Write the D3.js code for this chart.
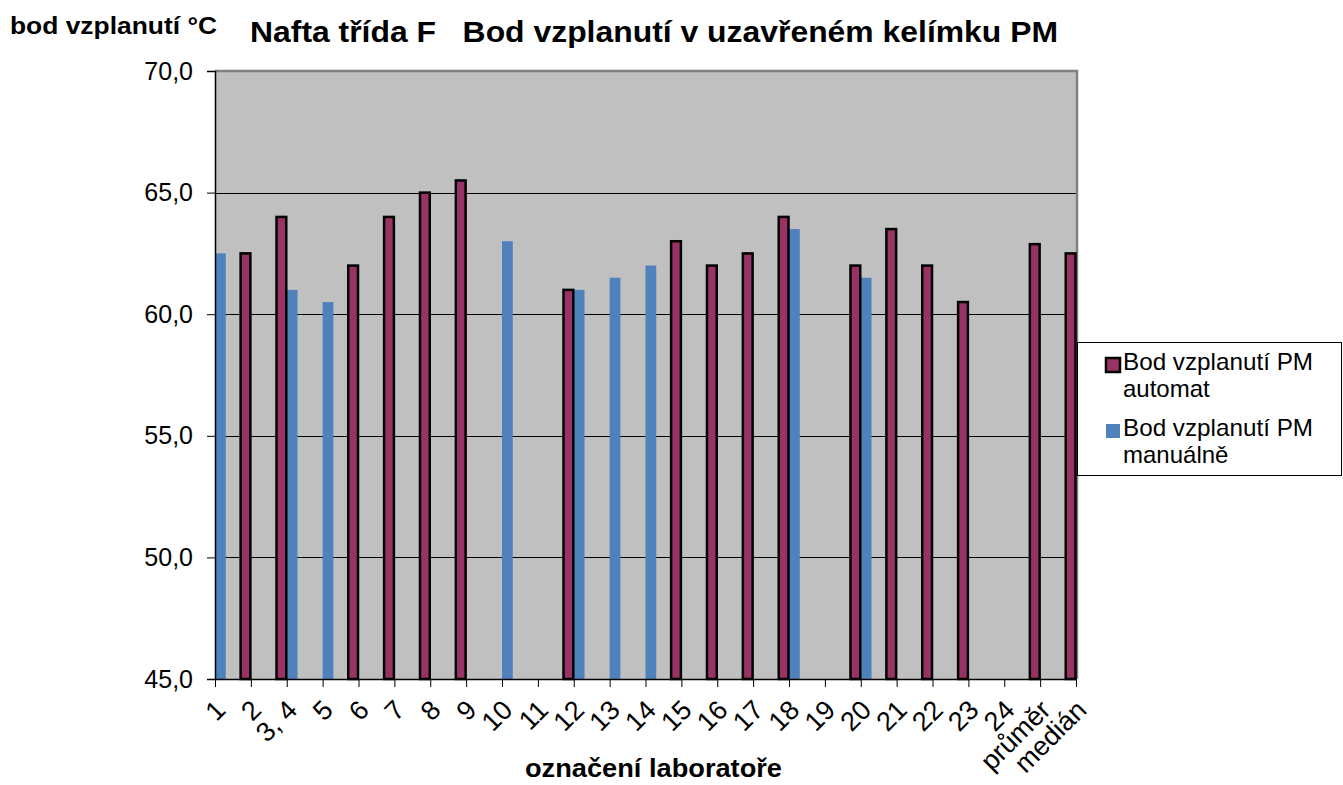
<!DOCTYPE html>
<html>
<head>
<meta charset="utf-8">
<script src="https://cdn.jsdelivr.net/npm/d3@7"></script>
<style>
  body { margin: 0; background: #fff; }
  svg { display: block; font-family: "Liberation Sans", Arial, sans-serif; }
</style>
</head>
<body>
<div id="chart"></div>
<script>
// categories (lab codes) and the two series, null = no result
var labs = ["1", "2", "3, 4", "5", "6", "7", "8", "9", "10", "11", "12", "13", "14",
  "15", "16", "17", "18", "19", "20", "21", "22", "23", "24", "průměr", "medián"];
var automat = [null, 62.5, 64.0, null, 62.0, 64.0, 65.0, 65.5, null, null, 61.0, null, null,
  63.0, 62.0, 62.5, 64.0, null, 62.0, 63.5, 62.0, 60.5, null, 62.88, 62.5];
var manual = [62.5, null, 61.0, 60.5, null, null, null, null, 63.0, null, 61.0, 61.5, 62.0,
  null, null, null, 63.5, null, 61.5, null, null, null, null, null, null];
var yTicks = [45, 50, 55, 60, 65, 70];
var seriesNames = [["Bod vzplanutí PM", "automat"], ["Bod vzplanutí PM", "manuálně"]];

var width = 1343, height = 785;
var plot = {left: 215, right: 1077, top: 71, bottom: 679};

var svg = d3.select("#chart")
  .append("svg")
  .attr("width", width)
  .attr("height", height);

// scales - categories sit on the tick marks
var xScale = d3.scalePoint()
  .domain(labs)
  .range([plot.left, plot.right - 1]);

var yScale = d3.scaleLinear()
  .domain([45, 70])
  .range([plot.bottom, plot.top]);

var barW = xScale.step() * 0.3;

// plot background
svg.append("rect")
  .attr("x", plot.left)
  .attr("y", plot.top)
  .attr("width", plot.right - plot.left)
  .attr("height", plot.bottom - plot.top)
  .attr("fill", "#c0c0c0");

// gridlines
svg.append("g")
  .selectAll("line")
  .data(yTicks.filter(d => d > 45 && d < 70))
  .join("line")
  .attr("x1", plot.left)
  .attr("x2", plot.right)
  .attr("y1", d => Math.round(yScale(d)) + 0.5)
  .attr("y2", d => Math.round(yScale(d)) + 0.5)
  .attr("stroke", "#000")
  .attr("stroke-width", 1);

// grey border top / right
svg.append("path")
  .attr("d", "M" + plot.left + "," + plot.top + "H" + plot.right + "V" + plot.bottom)
  .attr("fill", "none")
  .attr("stroke", "#808080")
  .attr("stroke-width", 2.5);

// bars
var data = labs.map((l, i) => ({lab: l, a: automat[i], m: manual[i]}));

svg.append("g")
  .selectAll("rect")
  .data(data.filter(d => d.m != null))
  .join("rect")
  .attr("x", d => xScale(d.lab))
  .attr("y", d => yScale(d.m))
  .attr("width", barW)
  .attr("height", d => plot.bottom - yScale(d.m))
  .attr("fill", "#4f81bd");

svg.append("g")
  .selectAll("rect")
  .data(data.filter(d => d.a != null))
  .join("rect")
  .attr("x", d => xScale(d.lab) - barW + 0.5)
  .attr("y", d => yScale(d.a))
  .attr("width", barW - 1)
  .attr("height", d => plot.bottom - yScale(d.a))
  .attr("fill", "#993366")
  .attr("stroke", "#000")
  .attr("stroke-width", 2.5);

// Y axis
var yAxis = svg.append("g")
  .attr("transform", "translate(" + plot.left + ",0)")
  .call(d3.axisLeft(yScale).tickValues(yTicks).tickSize(8).tickPadding(14)
    .tickFormat(d => d3.format(".1f")(d).replace(".", ",")));
yAxis.select(".domain").attr("stroke", "#000").attr("stroke-width", 1.5);
yAxis.selectAll("text").style("font-size", "25px").attr("fill", "#000");

// X axis
var xAxis = svg.append("g")
  .attr("transform", "translate(0," + plot.bottom + ")")
  .call(d3.axisBottom(xScale).tickSize(8).tickSizeOuter(0));
xAxis.select(".domain").attr("stroke", "#000").attr("stroke-width", 1.5);
xAxis.selectAll("text")
  .style("font-size", "27px")
  .attr("fill", "#000")
  .attr("text-anchor", "end")
  .attr("x", 0)
  .attr("y", 0)
  .attr("dy", "0.71em")
  .attr("transform", "translate(-2,19) rotate(-45)");

// titles
svg.append("text")
  .attr("x", 250)
  .attr("y", 42)
  .attr("textLength", 808)
  .attr("lengthAdjust", "spacingAndGlyphs")
  .style("font-size", "30px")
  .style("font-weight", "bold")
  .style("white-space", "pre")
  .text("Nafta třída F   Bod vzplanutí v uzavřeném kelímku PM");

svg.append("text")
  .attr("x", 10)
  .attr("y", 34)
  .attr("textLength", 207)
  .attr("lengthAdjust", "spacingAndGlyphs")
  .style("font-size", "23px")
  .style("font-weight", "bold")
  .text("bod vzplanutí °C");

svg.append("text")
  .attr("x", 525)
  .attr("y", 777)
  .attr("textLength", 257)
  .attr("lengthAdjust", "spacingAndGlyphs")
  .style("font-size", "25px")
  .style("font-weight", "bold")
  .text("označení laboratoře");

// legend
var legend = svg.append("g");
legend.append("rect")
  .attr("x", 1077.5)
  .attr("y", 342.5)
  .attr("width", 264)
  .attr("height", 133)
  .attr("fill", "#fff")
  .attr("stroke", "#000");

var legendColors = ["#993366", "#4f81bd"];
var legendY = [358, 424];
seriesNames.forEach(function(name, i) {
  legend.append("rect")
    .attr("x", 1106)
    .attr("y", legendY[i])
    .attr("width", 14)
    .attr("height", 14)
    .attr("fill", legendColors[i])
    .attr("stroke", i == 0 ? "#000" : "none")
    .attr("stroke-width", 2.5);
  legend.append("text")
    .attr("x", 1123)
    .attr("y", legendY[i] + 12)
    .attr("textLength", 190)
    .attr("lengthAdjust", "spacingAndGlyphs")
    .style("font-size", "24px")
    .text(name[0]);
  legend.append("text")
    .attr("x", 1123)
    .attr("y", legendY[i] + 39)
    .style("font-size", "24px")
    .text(name[1]);
});
</script>
</body>
</html>
